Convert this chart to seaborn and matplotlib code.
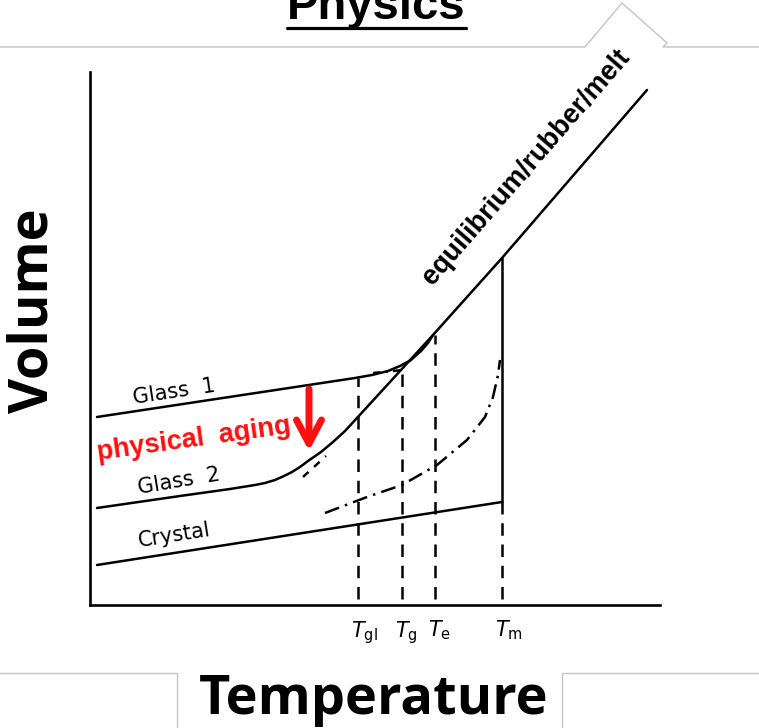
import seaborn as sns
import matplotlib.pyplot as plt
import matplotlib.transforms as mtransforms

# Schematic volume-temperature diagram
# T = temperature (arbitrary units), V = volume (arbitrary units)
glass1_T = [5, 263, 280, 296, 308, 319, 329, 336, 341]
glass1_V = [188, 227, 230, 234, 239, 245, 254, 262, 270]
glass2_T = [5, 88, 138, 163, 173, 183, 192, 200, 208, 216, 229, 241, 253, 265]
glass2_V = [97, 109, 116, 120, 122, 125, 129, 133, 138, 144, 153, 163, 174, 187]
melt_T = [265, 341, 410, 555]
melt_V = [187, 270, 347, 515]
melt_ext_T = [211, 234]
melt_ext_V = [128, 149]
glass1_ext_T = [281, 311]
glass1_ext_V = [232, 235]
crystal_T = [5, 410]
crystal_V = [40, 103]
tm_T = [410, 410]
tm_V = [103, 347]
dashdot_T = [233, 275, 310, 345, 375, 393, 401, 406, 408]
dashdot_V = [92, 108, 120, 140, 165, 188, 208, 230, 245]

trans_labels = [r'$T_{\mathrm{gl}}$', r'$T_{\mathrm{g}}$', r'$T_{\mathrm{e}}$', r'$T_{\mathrm{m}}$']
trans_T = [266, 310, 343, 410]
trans_top = [227, 235, 270, 103]

sns.set_style('white')
plt.rcParams['font.family'] = ['Liberation Sans', 'DejaVu Sans']
plt.rcParams['text.color'] = 'black'
plt.rcParams['xtick.color'] = 'black'

fig = plt.figure(figsize=(7.59, 7.28), dpi=100)

# slide background (pixel coordinates)
bg = fig.add_axes([0, 0, 1, 1])
bg.set_xlim(0, 759)
bg.set_ylim(728, 0)
bg.axis('off')
grey = '#c4c4c4'
bg.plot([0, 585, 622, 667, 663, 759], [47, 47, 3, 43, 47, 47], color=grey, lw=1)
bg.plot([0, 177, 177], [673, 673, 728], color=grey, lw=1)
bg.plot([759, 562, 562], [673, 673, 728], color=grey, lw=1)
bg.text(376, 19, 'Physics', ha='center', va='baseline', fontsize=34, fontweight='bold')
bg.plot([287, 466], [28, 28], color='black', lw=2.3)
bg.text(34, 311, 'Volume', rotation=90, ha='center', va='center',
        fontsize=39, fontweight='bold', family='Open Sans')
bg.text(374, 714, 'Temperature', ha='center', va='baseline',
        fontsize=39, fontweight='bold', family='Open Sans')

# diagram axes
ax = fig.add_axes([90 / 759, 123 / 728, 570 / 759, 533 / 728])
ax.set_xlim(-2, 568)
ax.set_ylim(0, 533)
ax.patch.set_alpha(0)
for s in ['top', 'right']:
    ax.spines[s].set_visible(False)
for s in ['left', 'bottom']:
    ax.spines[s].set_color('black')
    ax.spines[s].set_linewidth(1.9)

lw = 1.8
kw = dict(ax=ax, color='black', lw=lw, estimator=None, sort=False, legend=False)
sns.lineplot(x=glass1_T, y=glass1_V, **kw)
sns.lineplot(x=glass2_T, y=glass2_V, **kw)
sns.lineplot(x=melt_T, y=melt_V, **kw)
sns.lineplot(x=crystal_T, y=crystal_V, **kw)
sns.lineplot(x=tm_T, y=tm_V, **kw)
sns.lineplot(x=melt_ext_T, y=melt_ext_V, linestyle=(0, (3, 3)), **kw)
sns.lineplot(x=glass1_ext_T, y=glass1_ext_V, linestyle=(0, (3, 2, 1, 2)), **kw)
sns.lineplot(x=dashdot_T, y=dashdot_V, linestyle=(0, (6, 2.5, 1, 2.5)), **kw)
for t, top in zip(trans_T, trans_top):
    sns.lineplot(x=[t, t], y=[6, top], linestyle=(0, (5, 3.5)), **kw)

ax.set_xticks(trans_T)
ax.set_xticklabels(trans_labels, fontsize=15)
ax.set_yticks([])
ax.tick_params(axis='x', length=0, pad=10)
shift = mtransforms.ScaledTranslation(-7 / 100, 0, fig.dpi_scale_trans)
for lab in ax.get_xticklabels():
    lab.set_horizontalalignment('left')
    lab.set_transform(lab.get_transform() + shift)
ax.set_xlabel('')
ax.set_ylabel('')

ax.text(434, 438, 'equilibrium/rubber/melt', rotation=49, rotation_mode='anchor',
        ha='center', va='center', fontsize=19.5, fontweight='bold')
ax.text(82, 213, 'Glass  1', rotation=8.6, rotation_mode='anchor', ha='center', va='center',
        fontsize=15, family='DejaVu Sans')
ax.text(87, 124, 'Glass  2', rotation=9.5, rotation_mode='anchor', ha='center', va='center',
        fontsize=15, family='DejaVu Sans')
ax.text(82, 70, 'Crystal', rotation=9, rotation_mode='anchor', ha='center', va='center',
        fontsize=15, family='DejaVu Sans')
ax.text(102, 165, 'physical  aging', rotation=8, rotation_mode='anchor', ha='center', va='center',
        fontsize=19.5, fontweight='bold', color='#ff1010')
ax.annotate('', xy=(217, 154), xytext=(217, 216),
            arrowprops=dict(arrowstyle='->, head_length=0.85, head_width=0.45',
                            color='#ff1010', lw=5, mutation_scale=20,
                            shrinkA=0, shrinkB=0))

fig.savefig('out.png', dpi=100)
